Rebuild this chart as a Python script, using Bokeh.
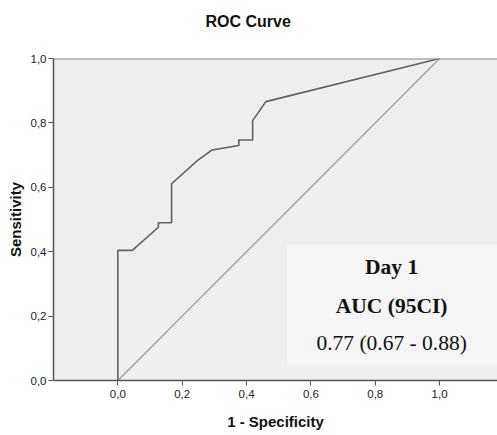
from bokeh.plotting import figure
from bokeh.models import Range1d, FixedTicker, Label, BoxAnnotation, Span, Title
from bokeh.embed import file_html
from bokeh.resources import INLINE

# ROC curve points (1 - specificity, sensitivity)
fpr = [0.0, 0.0, 0.045, 0.126, 0.126, 0.167, 0.167, 0.247, 0.293, 0.376, 0.376, 0.419, 0.419, 0.46, 0.90, 1.0]
tpr = [0.0, 0.404, 0.404, 0.476, 0.49, 0.49, 0.611, 0.683, 0.716, 0.730, 0.747, 0.747, 0.807, 0.866, 0.975, 1.0]

# reference line
ref_x = [0.0, 1.0]
ref_y = [0.0, 1.0]

ticks = [0.0, 0.2, 0.4, 0.6, 0.8, 1.0]
tick_labels = ["0,0", "0,2", "0,4", "0,6", "0,8", "1,0"]

title_text = "ROC Curve"
x_label = "1 - Specificity"
y_label = "Sensitivity"
box_lines = ["Day 1", "AUC (95CI)", "0.77 (0.67 - 0.88)"]

p = figure(width=497, height=435, output_backend="svg", toolbar_location=None,
           x_range=Range1d(-0.2, 1.18), y_range=Range1d(0.0, 1.0),
           min_border_left=53, min_border_right=0, min_border_top=58, min_border_bottom=55)

# trailing empty line reserves space between the title and the frame
p.title = Title(text=title_text + "\n", align="left", vertical_align="top", text_font="Liberation Sans",
                text_font_size="16px", text_font_style="bold", text_color="#111111",
                offset=152, standoff=20)

p.background_fill_color = "#EEEEEE"
p.border_fill_color = "white"
p.outline_line_color = None
p.grid.visible = False

for ax, lab in ((p.xaxis[0], x_label), (p.yaxis[0], y_label)):
    ax.ticker = FixedTicker(ticks=ticks)
    ax.major_label_overrides = {t: l for t, l in zip(ticks, tick_labels)}
    ax.axis_label = lab
    ax.axis_label_text_font = "Liberation Sans"
    ax.axis_label_text_font_style = "bold"
    ax.axis_label_text_font_size = "15px"
    ax.axis_label_text_color = "#111111"
    ax.major_label_text_font = "Liberation Sans"
    ax.major_label_text_font_size = "11.5px"
    ax.major_label_text_color = "#222222"
    ax.axis_line_color = "#555555"
    ax.axis_line_width = 1.5
    ax.major_tick_line_color = "#555555"
    ax.major_tick_out = 5
    ax.major_tick_in = 0
    ax.minor_tick_line_color = None

p.xaxis.axis_label_standoff = 12
p.xaxis.major_label_standoff = 4
p.yaxis.axis_label_standoff = 4
p.yaxis.major_label_standoff = 2

# top frame line
p.add_layout(Span(location=1.0, dimension="width", line_color="#888888", line_width=2))

p.line(ref_x, ref_y, line_color="#A0A0A0", line_width=1.2)
p.line(fpr, tpr, line_color="#606060", line_width=1.6)

p.add_layout(BoxAnnotation(left=0.526, right=1.2, bottom=0.047, top=0.422,
                           fill_color="#F5F5F5", fill_alpha=1.0, line_color=None))

ys = [0.351, 0.230, 0.115]
styles = ["bold", "bold", "normal"]
for txt, yy, st in zip(box_lines, ys, styles):
    p.add_layout(Label(x=0.851, y=yy, text=txt, text_align="center", text_baseline="middle",
                       text_font="Liberation Serif", text_font_size="21.5px",
                       text_font_style=st, text_color="#111111"))

open("out.html", "w").write(file_html(p, INLINE))
